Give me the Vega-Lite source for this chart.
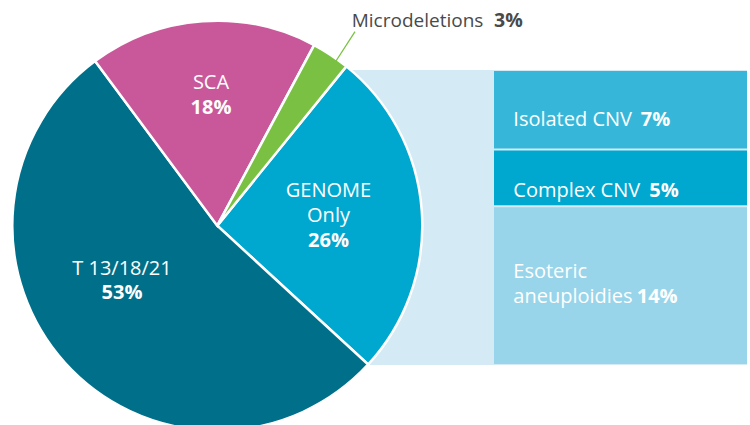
{
  "$schema": "https://vega.github.io/schema/vega-lite/v6.json",
  "width": 750,
  "height": 425,
  "autosize": {"type": "fit", "contains": "padding"},
  "padding": 0,
  "background": "white",
  "config": {"view": {"stroke": null}, "text": {"font": "Open Sans", "fontSize": 20, "baseline": "alphabetic"}},
  "datasets": {
    "pie": [
      {"cat": "GENOME Only", "share": 0.26, "k": 1},
      {"cat": "T 13/18/21", "share": 0.53, "k": 2},
      {"cat": "SCA", "share": 0.18, "k": 3},
      {"cat": "Microdeletions", "share": 0.03, "k": 4}
    ],
    "cnv": [
      {"sub": "Isolated CNV", "share": 0.07, "k": 3},
      {"sub": "Complex CNV", "share": 0.05, "k": 2},
      {"sub": "Esoteric aneuploidies", "share": 0.14, "k": 1}
    ]
  },
  "layer": [
    {
      "data": {"name": "cnv"},
      "mark": {"type": "rect", "color": "#D4EBF5"},
      "encoding": {
        "x": {"datum": 352, "type": "quantitative", "scale": {"domain": [0, 750], "nice": false, "zero": false}, "axis": null},
        "x2": {"datum": 747},
        "y": {"aggregate": "sum", "field": "share", "type": "quantitative", "scale": {"domain": [-0.05288, 0.32169], "nice": false, "zero": false}, "axis": null},
        "y2": {"datum": 0}
      }
    },
    {
      "data": {"name": "cnv"},
      "transform": [{"stack": "share", "groupby": [], "sort": [{"field": "k", "order": "ascending"}], "as": ["s0", "s1"]}],
      "mark": {"type": "rect", "yOffset": -1, "y2Offset": 1},
      "encoding": {
        "x": {"datum": 494, "type": "quantitative", "scale": {"domain": [0, 750], "nice": false, "zero": false}, "axis": null},
        "x2": {"datum": 747},
        "y": {"field": "s0", "type": "quantitative", "scale": {"domain": [-0.05288, 0.32169], "nice": false, "zero": false}, "axis": null},
        "y2": {"field": "s1"},
        "color": {"field": "sub", "type": "nominal", "legend": null, "scale": {"domain": ["Isolated CNV", "Complex CNV", "Esoteric aneuploidies", "GENOME Only", "T 13/18/21", "SCA", "Microdeletions"], "range": ["#36B7D9", "#00A8CF", "#98D5EA", "#00A8CF", "#00708A", "#C9589B", "#7AC143"]}}
      }
    },
    {
      "data": {"name": "pie"},
      "mark": {"type": "arc", "outerRadius": 205, "stroke": "white", "strokeWidth": 2.5, "clip": true},
      "encoding": {
        "theta": {"field": "share", "type": "quantitative", "stack": true, "scale": {"range": [0.6807, 6.9639]}},
        "order": {"field": "k", "type": "quantitative"},
        "color": {"field": "cat", "type": "nominal", "legend": null},
        "x": {"datum": 217.3, "type": "quantitative", "scale": {"domain": [0, 750], "nice": false, "zero": false}, "axis": null},
        "y": {"datum": 0.12277, "type": "quantitative", "scale": {"domain": [-0.05288, 0.32169], "nice": false, "zero": false}, "axis": null}
      }
    },
    {
      "data": {"values": [{"a": 1}]},
      "mark": {"type": "rule", "color": "#7AC143", "strokeWidth": 1.3},
      "encoding": {
        "x": {"datum": 355, "type": "quantitative", "scale": {"domain": [0, 750], "nice": false, "zero": false}, "axis": null},
        "y": {"datum": 0.29376, "type": "quantitative", "scale": {"domain": [-0.05288, 0.32169], "nice": false, "zero": false}, "axis": null},
        "x2": {"datum": 336},
        "y2": {"datum": 0.26793}
      }
    },
    {
      "data": {"name": "pie"},
      "transform": [{"filter": "datum.cat == 'SCA'"}],
      "mark": {"type": "text", "align": "center", "color": "white"},
      "encoding": {
        "text": {"field": "cat"},
        "x": {"datum": 211, "type": "quantitative", "scale": {"domain": [0, 750], "nice": false, "zero": false}, "axis": null},
        "y": {"datum": 0.24325, "type": "quantitative", "scale": {"domain": [-0.05288, 0.32169], "nice": false, "zero": false}, "axis": null}
      }
    },
    {
      "data": {"name": "pie"},
      "transform": [{"filter": "datum.cat == 'SCA'"}],
      "mark": {"type": "text", "align": "center", "color": "white", "fontWeight": "bold"},
      "encoding": {
        "text": {"field": "share", "format": ".0%"},
        "x": {"datum": 211, "type": "quantitative", "scale": {"domain": [0, 750], "nice": false, "zero": false}, "axis": null},
        "y": {"datum": 0.22122, "type": "quantitative", "scale": {"domain": [-0.05288, 0.32169], "nice": false, "zero": false}, "axis": null}
      }
    },
    {
      "data": {"name": "pie"},
      "transform": [{"filter": "datum.cat == 'GENOME Only'"}],
      "mark": {"type": "text", "align": "center", "color": "white", "lineBreak": " ", "lineHeight": 25},
      "encoding": {
        "text": {"field": "cat"},
        "x": {"datum": 328.5, "type": "quantitative", "scale": {"domain": [0, 750], "nice": false, "zero": false}, "axis": null},
        "y": {"datum": 0.14807, "type": "quantitative", "scale": {"domain": [-0.05288, 0.32169], "nice": false, "zero": false}, "axis": null}
      }
    },
    {
      "data": {"name": "pie"},
      "transform": [{"filter": "datum.cat == 'GENOME Only'"}],
      "mark": {"type": "text", "align": "center", "color": "white", "fontWeight": "bold"},
      "encoding": {
        "text": {"field": "share", "format": ".0%"},
        "x": {"datum": 328.5, "type": "quantitative", "scale": {"domain": [0, 750], "nice": false, "zero": false}, "axis": null},
        "y": {"datum": 0.104, "type": "quantitative", "scale": {"domain": [-0.05288, 0.32169], "nice": false, "zero": false}, "axis": null}
      }
    },
    {
      "data": {"name": "pie"},
      "transform": [{"filter": "datum.cat == 'T 13/18/21'"}],
      "mark": {"type": "text", "align": "center", "color": "white"},
      "encoding": {
        "text": {"field": "cat"},
        "x": {"datum": 122, "type": "quantitative", "scale": {"domain": [0, 750], "nice": false, "zero": false}, "axis": null},
        "y": {"datum": 0.07932, "type": "quantitative", "scale": {"domain": [-0.05288, 0.32169], "nice": false, "zero": false}, "axis": null}
      }
    },
    {
      "data": {"name": "pie"},
      "transform": [{"filter": "datum.cat == 'T 13/18/21'"}],
      "mark": {"type": "text", "align": "center", "color": "white", "fontWeight": "bold"},
      "encoding": {
        "text": {"field": "share", "format": ".0%"},
        "x": {"datum": 122, "type": "quantitative", "scale": {"domain": [0, 750], "nice": false, "zero": false}, "axis": null},
        "y": {"datum": 0.05773, "type": "quantitative", "scale": {"domain": [-0.05288, 0.32169], "nice": false, "zero": false}, "axis": null}
      }
    },
    {
      "data": {"name": "pie"},
      "transform": [{"filter": "datum.cat == 'Microdeletions'"}],
      "mark": {"type": "text", "align": "left", "color": "#4A4A4A", "fontSize": 19},
      "encoding": {
        "text": {"field": "cat"},
        "x": {"datum": 351.7, "type": "quantitative", "scale": {"domain": [0, 750], "nice": false, "zero": false}, "axis": null},
        "y": {"datum": 0.29816, "type": "quantitative", "scale": {"domain": [-0.05288, 0.32169], "nice": false, "zero": false}, "axis": null}
      }
    },
    {
      "data": {"name": "pie"},
      "transform": [{"filter": "datum.cat == 'Microdeletions'"}],
      "mark": {"type": "text", "align": "left", "color": "#4A4A4A", "fontWeight": "bold", "fontSize": 19.5},
      "encoding": {
        "text": {"field": "share", "format": ".0%"},
        "x": {"datum": 494, "type": "quantitative", "scale": {"domain": [0, 750], "nice": false, "zero": false}, "axis": null},
        "y": {"datum": 0.29816, "type": "quantitative", "scale": {"domain": [-0.05288, 0.32169], "nice": false, "zero": false}, "axis": null}
      }
    },
    {
      "data": {"name": "cnv"},
      "transform": [{"filter": "datum.sub == 'Isolated CNV'"}],
      "mark": {"type": "text", "align": "left", "color": "white"},
      "encoding": {
        "text": {"field": "sub"},
        "x": {"datum": 513.3, "type": "quantitative", "scale": {"domain": [0, 750], "nice": false, "zero": false}, "axis": null},
        "y": {"datum": 0.21091, "type": "quantitative", "scale": {"domain": [-0.05288, 0.32169], "nice": false, "zero": false}, "axis": null}
      }
    },
    {
      "data": {"name": "cnv"},
      "transform": [{"filter": "datum.sub == 'Isolated CNV'"}],
      "mark": {"type": "text", "align": "left", "color": "white", "fontWeight": "bold"},
      "encoding": {
        "text": {"field": "share", "format": ".0%"},
        "x": {"datum": 640.7, "type": "quantitative", "scale": {"domain": [0, 750], "nice": false, "zero": false}, "axis": null},
        "y": {"datum": 0.21091, "type": "quantitative", "scale": {"domain": [-0.05288, 0.32169], "nice": false, "zero": false}, "axis": null}
      }
    },
    {
      "data": {"name": "cnv"},
      "transform": [{"filter": "datum.sub == 'Complex CNV'"}],
      "mark": {"type": "text", "align": "left", "color": "white"},
      "encoding": {
        "text": {"field": "sub"},
        "x": {"datum": 513.3, "type": "quantitative", "scale": {"domain": [0, 750], "nice": false, "zero": false}, "axis": null},
        "y": {"datum": 0.14833, "type": "quantitative", "scale": {"domain": [-0.05288, 0.32169], "nice": false, "zero": false}, "axis": null}
      }
    },
    {
      "data": {"name": "cnv"},
      "transform": [{"filter": "datum.sub == 'Complex CNV'"}],
      "mark": {"type": "text", "align": "left", "color": "white", "fontWeight": "bold"},
      "encoding": {
        "text": {"field": "share", "format": ".0%"},
        "x": {"datum": 649.3, "type": "quantitative", "scale": {"domain": [0, 750], "nice": false, "zero": false}, "axis": null},
        "y": {"datum": 0.14833, "type": "quantitative", "scale": {"domain": [-0.05288, 0.32169], "nice": false, "zero": false}, "axis": null}
      }
    },
    {
      "data": {"name": "cnv"},
      "transform": [{"filter": "datum.sub == 'Esoteric aneuploidies'"}],
      "mark": {"type": "text", "align": "left", "color": "white", "lineBreak": " ", "lineHeight": 25.3},
      "encoding": {
        "text": {"field": "sub"},
        "x": {"datum": 513.3, "type": "quantitative", "scale": {"domain": [0, 750], "nice": false, "zero": false}, "axis": null},
        "y": {"datum": 0.07668, "type": "quantitative", "scale": {"domain": [-0.05288, 0.32169], "nice": false, "zero": false}, "axis": null}
      }
    },
    {
      "data": {"name": "cnv"},
      "transform": [{"filter": "datum.sub == 'Esoteric aneuploidies'"}],
      "mark": {"type": "text", "align": "left", "color": "white", "fontWeight": "bold"},
      "encoding": {
        "text": {"field": "share", "format": ".0%"},
        "x": {"datum": 636.7, "type": "quantitative", "scale": {"domain": [0, 750], "nice": false, "zero": false}, "axis": null},
        "y": {"datum": 0.05438, "type": "quantitative", "scale": {"domain": [-0.05288, 0.32169], "nice": false, "zero": false}, "axis": null}
      }
    }
  ]
}
